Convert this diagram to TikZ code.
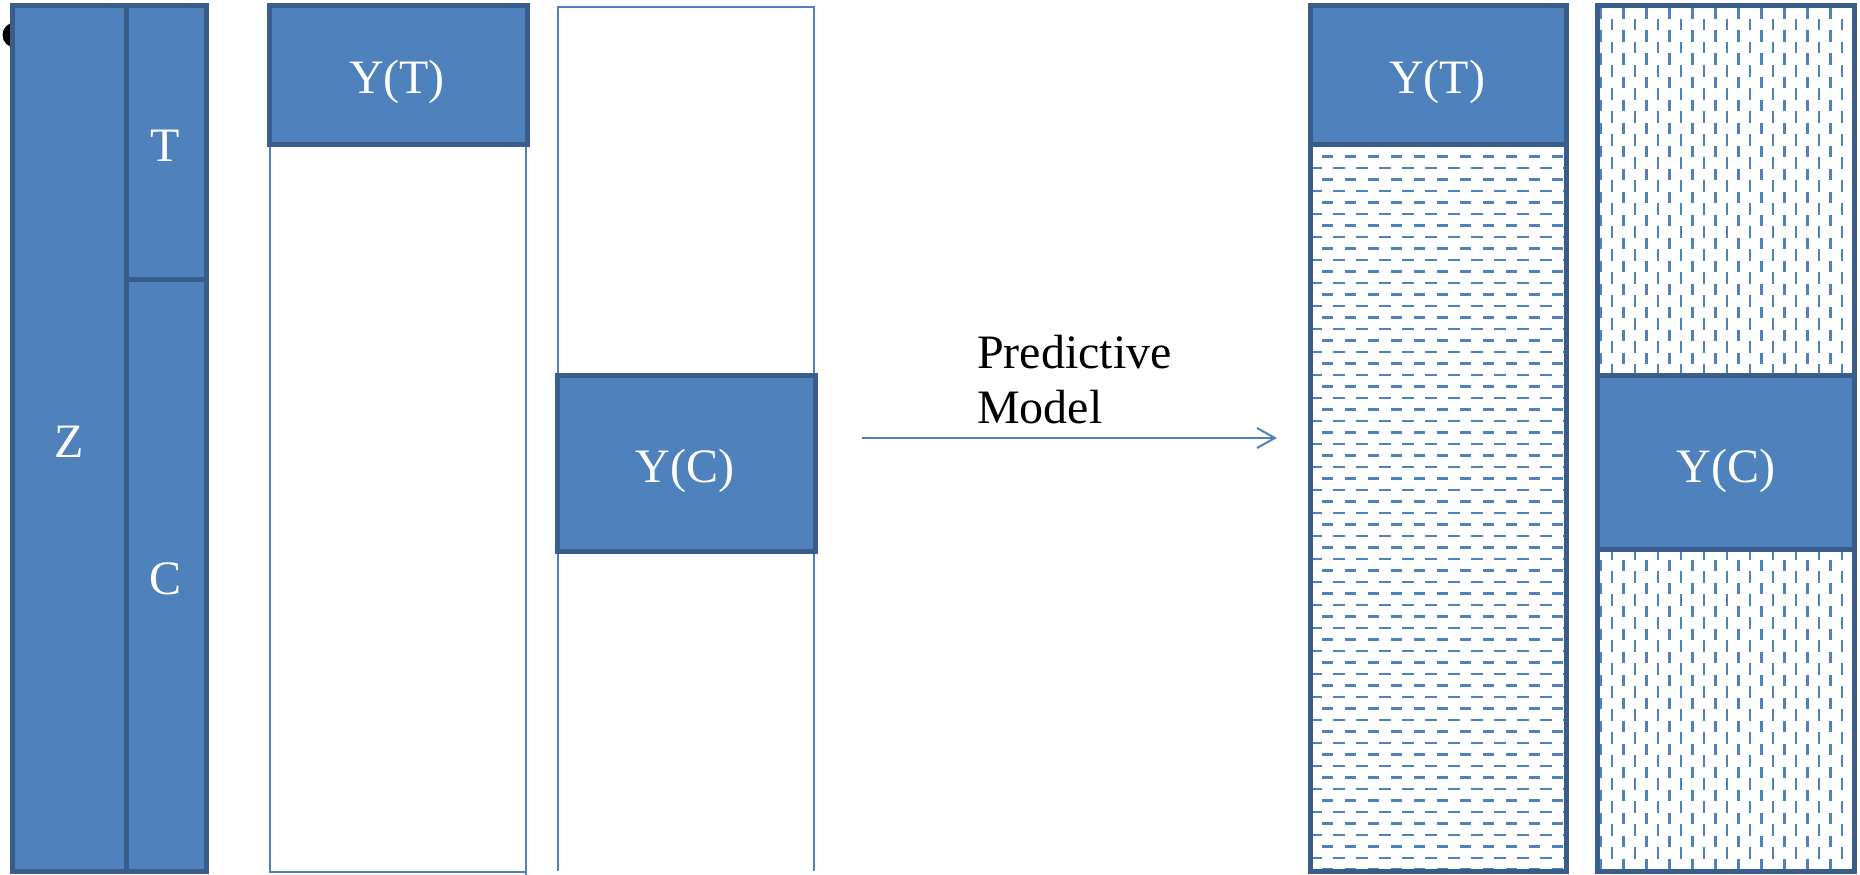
\documentclass[tikz,border=0pt]{standalone}
\usepackage{fontspec}
\setmainfont{Liberation Serif}
\usetikzlibrary{arrows.meta}
\definecolor{boxfill}{HTML}{4F81BD}
\definecolor{boxedge}{HTML}{385D8A}
\begin{document}
\begin{tikzpicture}[x=1pt,y=-1pt,
  block/.style={fill=boxfill,draw=boxedge,line width=5pt},
  outline/.style={draw=boxedge,line width=5pt},
  frame/.style={draw=boxfill,line width=2pt},
  boxtext/.style={text=white,font=\fontsize{48}{55}\selectfont,anchor=base,inner sep=0pt},
  hatch/.style={draw=boxfill,line width=2.8pt,dash pattern=on 11.5pt off 11.5pt}]
\useasboundingbox (0,0) rectangle (1860,875);

% small black dot behind the first column
\fill[black] (15,35) circle (12.5pt);

% column 1: Z split into T and C
\path[block] (12,6) rectangle (126,871);
\path[block] (126,6) rectangle (206,279);
\path[block] (126,279) rectangle (206,871);
\node[boxtext] (z) at (69.5,457) {Z};
\node[boxtext] (t) at (165,161) {T};
\node[boxtext] (c) at (166,594) {C};

% column 2: observed Y(T)
\draw[frame] (270,144) -- (270,872) -- (526,872);
\draw[frame] (526,6) -- (526,875);
\path[block] (269,6) rectangle (527,144);
\node[boxtext] (yt1) at (397,93) {Y(T)};

% column 3: observed Y(C)
\draw[frame] (558,871) -- (558,7) -- (814,7) -- (814,871);
\path[block] (557,375) rectangle (815,551);
\node[boxtext] (yc1) at (685,482) {Y(C)};

% arrow with its caption
\coordinate (arrowL) at (862,438);
\coordinate (arrowR) at (1277,438);
\draw[boxfill,line width=2pt,-{Straight Barb[length=18pt,width=20pt]}] (arrowL) -- (arrowR);
\node[font=\fontsize{48}{55}\selectfont,align=left,anchor=base west,inner sep=0pt] (pm) at (977,423) {Predictive\\Model};

% column 4: predicted Y(C) as horizontal hatching under Y(T)
\begin{scope}
  \clip (1310,144) rectangle (1566,871);
  \foreach \k [evaluate=\k as \yy using {145+11.5*\k},
               evaluate=\k as \ph using {mod(\k,2)*11.5}] in {0,...,63}
    \draw[hatch,dash phase=\ph pt] (1310.2,\yy) -- (1575,\yy);
\end{scope}
\path[outline] (1310,6) rectangle (1566,871);
\path[block] (1310,6) rectangle (1566,144);
\node[boxtext] (yt2) at (1437,93) {Y(T)};

% column 5: predicted Y(T) as vertical hatching around Y(C)
\begin{scope}
  \clip (1597,6) rectangle (1854,871);
  \foreach \j [evaluate=\j as \xx using {1600.5+11.5*\j},
               evaluate=\j as \ph using {mod(\j,2)*11.5}] in {0,...,22}
    \draw[hatch,dash phase=\ph pt] (\xx,7.5) -- (\xx,880);
\end{scope}
\path[outline] (1597,6) rectangle (1854,871);
\path[block] (1597,375) rectangle (1854,549);
\node[boxtext] (yc2) at (1726,482) {Y(C)};
\end{tikzpicture}
\end{document}
